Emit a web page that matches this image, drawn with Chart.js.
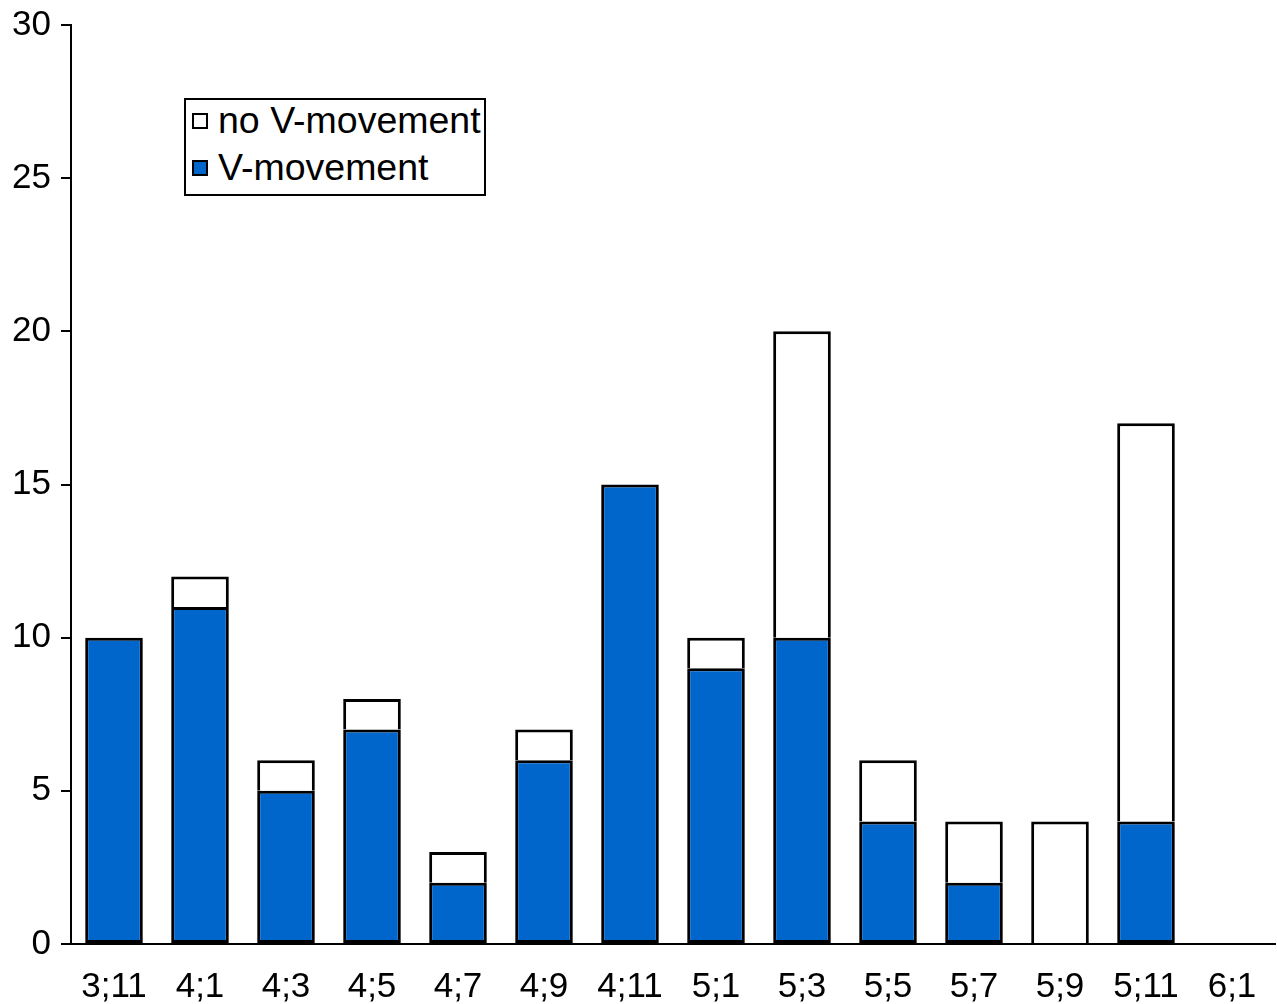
<!DOCTYPE html>
<html>
<head>
<meta charset="utf-8">
<script src="https://cdn.jsdelivr.net/npm/chart.js@4.4.1/dist/chart.umd.min.js"></script>
<style>
  html, body { margin: 0; padding: 0; background: #fff; }
  #wrap { position: relative; width: 1277px; height: 1004px; }
  #legend {
    position: absolute; left: 184px; top: 98px; width: 298px; height: 94px;
    border: 2px solid #000; background: #fff;
    font-family: "Liberation Sans", Arial, sans-serif; font-size: 37.5px; color: #000;
  }
  .item { position: absolute; left: 6px; white-space: nowrap; line-height: 40px; height: 40px; }
  .sw { display: inline-block; width: 12px; height: 12px; border: 2px solid #000; vertical-align: middle; margin-right: 10px; position: relative; top: -2px; }
</style>
</head>
<body>
<div id="wrap">
  <canvas id="c"></canvas>
  <div id="legend">
    <div class="item" style="top:0px"><span class="sw" style="background:#fff"></span>no V-movement</div>
    <div class="item" style="top:47px"><span class="sw" style="background:#0066CC"></span>V-movement</div>
  </div>
</div>
<script>
const categories = ["3;11","4;1","4;3","4;5","4;7","4;9","4;11","5;1","5;3","5;5","5;7","5;9","5;11","6;1"];
const vMovement   = [10, 11, 5, 7, 2, 6, 15, 9, 10, 4, 2, 0, 4, 0];
const noVMovement = [0, 1, 1, 1, 1, 1, 0, 1, 10, 2, 2, 4, 13, 0];
const yTicks = [0, 5, 10, 15, 20, 25, 30];

const font = { family: "'Liberation Sans', Arial, sans-serif", size: 35 };
const noZero = arr => arr.map(v => (v === 0 ? null : v));

new Chart(document.getElementById('c'), {
  type: 'bar',
  data: {
    labels: categories,
    datasets: [
      {
        label: 'V-movement', data: noZero(vMovement),
        backgroundColor: '#0066CC', borderColor: '#000',
        borderWidth: 3, borderSkipped: false,
        barPercentage: 0.67, categoryPercentage: 1
      },
      {
        label: 'no V-movement', data: noZero(noVMovement),
        backgroundColor: '#fff', borderColor: '#000',
        borderWidth: 3, borderSkipped: 'bottom',
        barPercentage: 0.67, categoryPercentage: 1
      }
    ]
  },
  options: {
    responsive: true, maintainAspectRatio: false, animation: false,
    layout: { padding: { top: 25, right: 2, left: 0, bottom: 0 } },
    plugins: { legend: { display: false }, tooltip: { enabled: false } },
    scales: {
      x: {
        stacked: true,
        grid: { display: false, drawTicks: false },
        border: { display: true, color: '#000', width: 2 },
        ticks: { color: '#000', font: font, padding: 22, maxRotation: 0, autoSkip: false },
        afterFit: s => { s.height = 60; s.paddingLeft = 0; s.paddingRight = 0; }
      },
      y: {
        stacked: true, min: 0, max: 30,
        afterBuildTicks: s => { s.ticks = yTicks.map(v => ({ value: v })); },
        grid: { drawOnChartArea: false, drawTicks: true, tickLength: 10, color: '#000', lineWidth: 2 },
        border: { display: true, color: '#000', width: 2 },
        ticks: { color: '#000', font: font, padding: 10 },
        afterFit: s => { s.width = 71; s.paddingTop = 0; s.paddingBottom = 0; }
      }
    }
  }
});
</script>
</body>
</html>
